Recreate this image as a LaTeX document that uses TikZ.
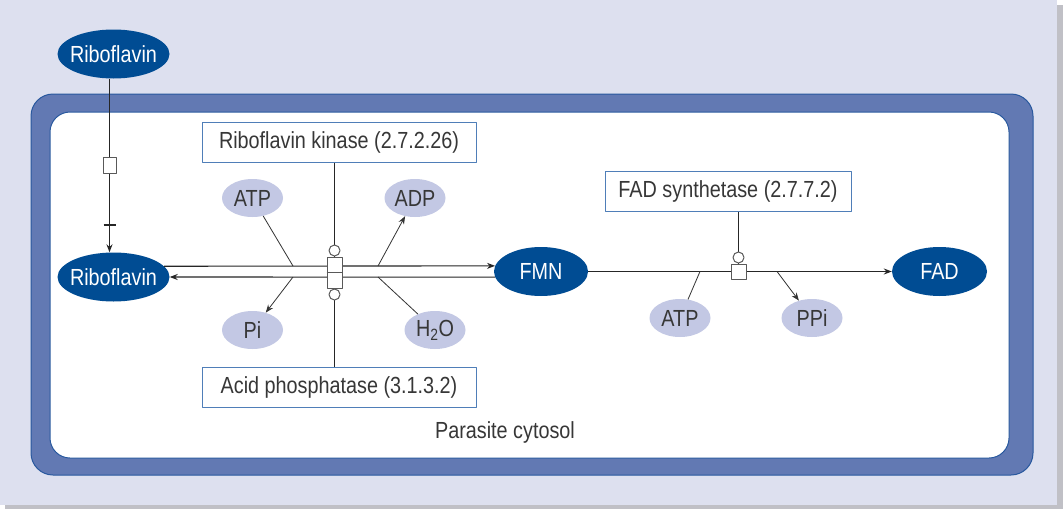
\documentclass[tikz,border=0pt]{standalone}
\usepackage{fontspec}
\setmainfont{Liberation Sans}[FakeStretch=0.85]
\usetikzlibrary{arrows.meta,shapes.geometric}
\definecolor{bgpale}{RGB}{221,224,239}
\definecolor{bgshade}{RGB}{192,192,198}
\definecolor{membrane}{RGB}{98,121,179}
\definecolor{membraneline}{RGB}{40,88,158}
\definecolor{metab}{RGB}{0,76,147}
\definecolor{cofac}{RGB}{195,200,228}
\definecolor{enzline}{RGB}{79,126,184}
\definecolor{inktext}{RGB}{55,55,55}
\tikzset{
  mainmet/.style={ellipse,fill=metab,text=white,inner xsep=-4pt,inner ysep=0pt,minimum width=112pt,minimum height=49pt},
  sidemet/.style={ellipse,fill=cofac,text=inktext,inner xsep=-4pt,inner ysep=0pt,minimum width=61pt,minimum height=38pt},
  enzbox/.style={draw=enzline,line width=1pt,fill=white,text=inktext,minimum height=40pt},
  procbox/.style={draw=black!65,line width=1pt,fill=white,inner sep=0pt},
  modcirc/.style={circle,draw=black!65,line width=1pt,fill=white,inner sep=0pt,minimum size=11pt},
  reac/.style={line width=1.1pt,draw=black!85},
  sidereac/.style={line width=0.8pt,draw=black!80},
}
\begin{document}
\begin{tikzpicture}[x=1pt,y=-1pt,>={Stealth[length=8pt,width=6pt]},line join=round,
    every node/.style={font=\fontsize{23.3}{27}\selectfont}]
  \useasboundingbox (0,0) rectangle (1063,509);
  % cell frame
  \fill[bgshade] (5,5) rectangle (1063,509);
  \fill[bgpale] (0,0) rectangle (1057,505);
  \draw[fill=membrane,draw=membraneline,line width=1pt,rounded corners=22pt] (31,94) rectangle (1033,475);
  \draw[fill=white,draw=membraneline,line width=1pt,rounded corners=20pt] (50,112) rectangle (1009,458);
  % junction points
  \path (334.5,272.5) coordinate (rk)
        (738.5,271.5) coordinate (fs)
        (109.5,225) coordinate (tk)
        (293,266) coordinate (atpin)
        (378,266) coordinate (adpout)
        (293,277) coordinate (piout)
        (378,277) coordinate (waterin)
        (700,271.5) coordinate (atpjoin)
        (777,271.5) coordinate (ppiout);
  % metabolites
  \node[mainmet] (rbout) at (113.5,54) {Riboflavin};
  \node[mainmet] (rbin) at (113.5,277) {Riboflavin};
  \node[mainmet,minimum width=94pt] (fmn) at (541,271.5) {FMN};
  \node[mainmet,minimum width=95pt] (fad) at (939.5,271.5) {FAD};
  \node[sidemet] (atpa) at (252.5,198) {ATP};
  \node[sidemet] (adp) at (415,198) {ADP};
  \node[sidemet] (pi) at (252.5,330) {Pi};
  \node[sidemet] (water) at (435,330) {H\textsubscript{2}O};
  \node[sidemet] (atpb) at (680,318) {ATP};
  \node[sidemet] (ppi) at (812,318) {PPi};
  % reactions
  \draw[reac,->] ([xshift=-4pt]rbout.south) -- ([xshift=-4pt]rbin.north);
  \draw[reac] ([xshift=-6pt]tk) -- ([xshift=6pt]tk);
  \draw[reac,->] (rbin.12.4) -- (fmn.173.8);
  \draw[reac,->] (fmn.187.5) -- (rbin.east);
  \draw[reac,->] (fmn) -- (fad);
  \draw[sidereac] (atpa) -- (atpin);
  \draw[sidereac,->] (adpout) -- (adp);
  \draw[sidereac,->] (piout) -- (pi);
  \draw[sidereac] (water) -- (waterin);
  \draw[sidereac] (atpb) -- (atpjoin);
  \draw[sidereac,->] (ppiout) -- (ppi);
  % enzymes
  \node[enzbox,minimum width=274pt] (kin) at (339,142) {Riboflavin kinase (2.7.2.26)};
  \node[enzbox,minimum width=274pt] (acp) at (339,387) {Acid phosphatase (3.1.3.2)};
  \node[enzbox,minimum width=246pt] (fads) at (728,191.5) {FAD synthetase (2.7.7.2)};
  \draw[reac] (kin.south -| rk) -- (rk);
  \draw[reac] (acp.north -| rk) -- (rk);
  \draw[reac] (fads.south -| fs) -- (fs);
  % process nodes
  \node[procbox,minimum width=13pt,minimum height=16pt] (trans) at (109.5,165) {};
  \node[procbox,minimum width=15pt,minimum height=31pt] (rkbox) at (rk) {};
  \draw[procbox] (rkbox.west) -- (rkbox.east);
  \node[modcirc,anchor=south] (kinmod) at (rkbox.north) {};
  \node[modcirc,anchor=north] (acpmod) at (rkbox.south) {};
  \node[procbox,minimum size=15pt] (fsbox) at (fs) {};
  \node[modcirc,anchor=south] (fsmod) at (fsbox.north) {};
  \node[text=inktext] (cyto) at (505,432) {Parasite cytosol};
\end{tikzpicture}
\end{document}
